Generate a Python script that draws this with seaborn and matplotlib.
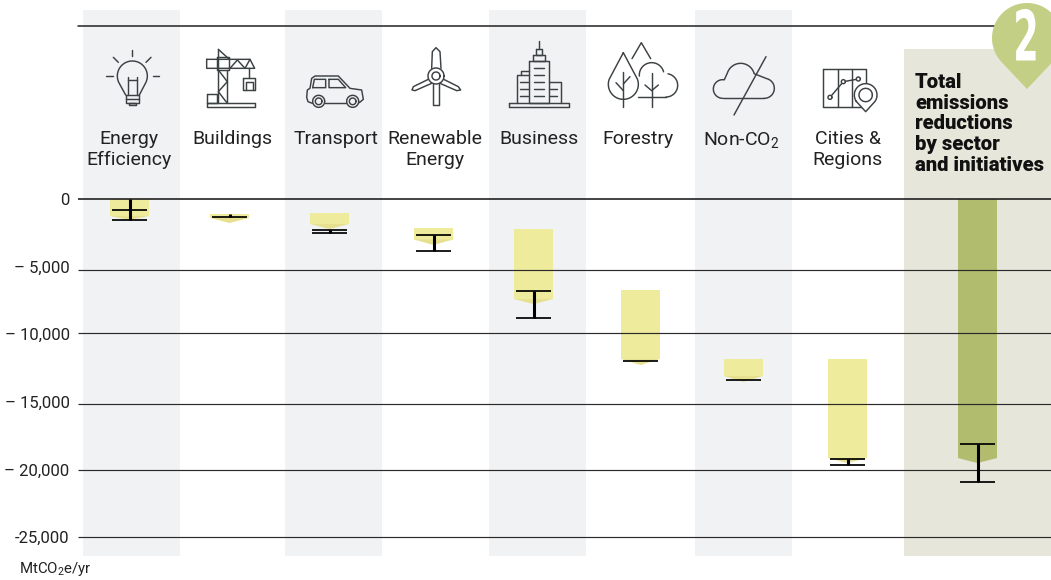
import numpy as np
import pandas as pd
import matplotlib
matplotlib.use("Agg")
import matplotlib.pyplot as plt
from matplotlib.patches import Polygon, Rectangle
from matplotlib.patheffects import AbstractPathEffect
from matplotlib.transforms import Affine2D
import seaborn as sns

# =============================================================================
# DATA (MtCO2e/yr)
# =============================================================================
sectors = ["Energy\nEfficiency", "Buildings", "Transport", "Renewable\nEnergy", "Business",
           "Forestry", "Non-CO$_2$", "Cities &\nRegions"]
total_title = "Total\nemissions\nreductions\nby sector\nand initiatives"
bar_top = [0, -1110, -1035, -2145, -2220, -6730, -11830, -11830, 0]
bar_end = [-1257, -1405, -1850, -3000, -7400, -11830, -13090, -19160, -19160]
bar_tip = [-1550, -1775, -2220, -3400, -7770, -12280, -13535, -19530, -19530]
whisker_high = [0, -1130, -2270, -2660, -6800, -11980, -13390, -19230, -18120]
whisker_low = [-1550, -1330, -2490, -3850, -8800, -11980, -13390, -19670, -20930]
upper_cap = [-814, np.nan, -2270, -2660, -6800, np.nan, np.nan, -19230, -18120]
ticks = [0, -5000, -10000, -15000, -20000, -25000]
tick_labels = ["0", "– 5,000", "– 10,000", "– 15,000", "– 20,000", "-25,000"]
# the rules in the source sit slightly off the tick labels
rule_levels = [-5251, -9911, -15163, -20044, -25000]

# =============================================================================
# LAYOUT (pixels of the 1051x580 picture)
# =============================================================================
W, H = 1051, 580
PX_PER_UNIT = 13.52 / 1000
ZERO_Y = 199
bar_x = [129.5, 229.5, 329.5, 433.5, 533.5, 640.5, 743.5, 847.5, 977.5]
label_x = [129, 232, 336, 435, 539, 638, 741, 848]
band_left = [83, 285, 489, 695]
YELLOW, YELLOW_TIP = "#efeb9c", "#e6e08f"
GREEN = "#b2bc6f"
INK = "#3c4144"
FONT = "Roboto"

sns.set_theme(style="white")
plt.rcParams["font.family"] = [FONT, "DejaVu Sans"]
plt.rcParams["mathtext.default"] = "regular"


class Squeeze(AbstractPathEffect):
    # narrows a text horizontally around a display x, no condensed face is installed
    def __init__(self, cx, factor):
        super().__init__()
        self.cx, self.factor = cx, factor

    def draw_path(self, renderer, gc, tpath, affine, rgbFace=None):
        squeeze = Affine2D().translate(-self.cx, 0).scale(self.factor, 1).translate(self.cx, 0)
        renderer.draw_path(gc, tpath, affine + squeeze, rgbFace)


fig = plt.figure(figsize=(W / 100, H / 100), dpi=100)

# back layer in pixel coordinates: bands, headers, icons, badge
deco = fig.add_axes([0, 0, 1, 1], zorder=0)
deco.set_xlim(0, W)
deco.set_ylim(H, 0)
deco.axis("off")

for left in band_left:
    deco.add_patch(Rectangle((left, 10), 97, 546, color="#f1f2f4", lw=0))
deco.add_patch(Rectangle((904, 49), 147, 507, color="#e6e6da", lw=0))
deco.plot([78, 996], [26, 26], color="#222222", lw=1.1)

for name, x in zip(sectors, label_x):
    deco.text(x, 130, name, ha="center", va="top", fontsize=14, color="#222222", linespacing=1.21)
deco.text(915, 73, total_title, ha="left", va="top", fontsize=14.6, fontweight="black",
          color="#111111", linespacing=1.11)
deco.text(19, 569, "MtCO$_2$e/yr", ha="left", va="center", fontsize=10.8, color="#222222")

# badge
a = np.radians(np.linspace(-225, 45, 80))
pin = np.column_stack([1027 + 35 * np.cos(a), 38 + 35 * np.sin(a)])
pin = np.vstack([pin, [1027, 89]])
deco.add_patch(Polygon(pin, closed=True, color="#c3cf84", lw=0, zorder=5))
deco.text(1026, 41, "2", ha="center", va="center", fontsize=50, color="white", fontweight="bold",
          family="DejaVu Sans", zorder=6, path_effects=[Squeeze(1026, 0.53)])


# =============================================================================
# ICONS (traced in 3x zoom coordinates)
# =============================================================================
def stroke(pts, ox, oy, lw=1.05, fill=None):
    pts = np.asarray(pts, dtype=float)
    x, y = ox + pts[:, 0] / 3, oy + pts[:, 1] / 3
    if fill:
        deco.fill(x, y, color=fill, lw=0, zorder=3)
    deco.plot(x, y, color=INK, lw=lw, zorder=3, solid_capstyle="round", solid_joinstyle="round")


def arc(cx, cy, r, a0=0, a1=360):
    t = np.radians(np.linspace(a0, a1, 60))
    return np.column_stack([cx + r * np.cos(t), cy + r * np.sin(t)])


def box(x0, y0, x1, y1):
    return [(x0, y0), (x1, y0), (x1, y1), (x0, y1), (x0, y0)]


Z5 = (80, 20)
Z6 = (480, 20)

# bulb
stroke(np.vstack([[(137, 225)], arc(157, 168, 45, 150, 390), [(178, 225)]]), *Z5)
for seg in [[(157, 90), (157, 108)], [(78, 168), (98, 168)], [(218, 168), (238, 168)],
            [(100, 112), (115, 127)], [(213, 112), (198, 127)], [(145, 170), (145, 225)],
            [(170, 170), (170, 225)], [(145, 180), (170, 180)]]:
    stroke(seg, *Z5)
stroke(box(137, 225, 178, 248), *Z5)
stroke(box(148, 248, 168, 256), *Z5)
stroke([(137, 236), (178, 236)], *Z5)

# crane
for seg in [[(415, 88), (415, 250)], [(442, 150), (442, 250)], [(415, 88), (448, 118)],
            [(380, 118), (510, 118), (524, 145), (380, 145), (380, 118)],
            [(450, 145), (472, 120), (495, 145), (510, 118)],
            [(415, 150), (442, 185), (415, 215), (442, 250)], [(507, 145), (507, 175)],
            box(382, 250, 524, 262), box(382, 222, 410, 250), box(410, 112, 448, 150),
            box(490, 175, 525, 210), [(497, 210), (497, 185), (518, 185), (518, 210)]]:
    stroke(seg, *Z5)

# car
stroke([(697, 250), (684, 245), (680, 232), (682, 210), (690, 205), (695, 175), (705, 168), (775, 168),
        (810, 205), (845, 210), (850, 238), (838, 248)], *Z5)
stroke([(735, 250), (798, 250)], *Z5)
for cx in (716, 818):
    stroke(arc(cx, 244, 18), *Z5)
    stroke(arc(cx, 244, 10), *Z5)
stroke([(698, 203), (703, 178), (737, 178), (737, 203), (698, 203)], *Z5)
stroke([(747, 178), (775, 178), (797, 203), (747, 203), (747, 178)], *Z5)

# wind turbine
for seg in [[(1055, 145), (1057, 95), (1068, 83), (1080, 95), (1083, 145)],
            [(1045, 178), (1000, 200), (996, 210), (1005, 212), (1055, 190)],
            [(1091, 178), (1135, 200), (1142, 210), (1130, 212), (1080, 190)],
            [(1060, 193), (1060, 256), (1077, 256), (1077, 193)]]:
    stroke(seg, *Z5)
stroke(arc(1068, 168, 24), *Z5)
stroke(arc(1068, 168, 12), *Z5)

# towers
for seg in [box(87, 248, 267, 261), box(146, 123, 208, 248), box(158, 105, 196, 123), box(167, 88, 187, 105),
            [(177, 62), (177, 88)], [(146, 165), (110, 165), (110, 248)], [(122, 165), (122, 152), (146, 152)],
            [(208, 187), (244, 187), (244, 248)]]:
    stroke(seg, *Z6)
for y in (145, 165, 185, 207, 228):
    stroke([(162, y), (192, y)], *Z6)
for y in (185, 207, 228):
    stroke([(120, y), (143, y)], *Z6)
for y in (207, 228):
    stroke([(210, y), (230, y)], *Z6)

# trees
drop = np.vstack([[(430, 98)], arc(430, 193, 45, -20, 200), [(430, 98)]])
stroke(drop, *Z6)
for seg in [[(430, 155), (430, 262)], [(408, 188), (430, 212)], [(450, 170), (430, 192)],
            [(456, 116), (484, 68), (512, 116)], [(515, 158), (515, 262)],
            [(495, 195), (515, 212), (535, 195)], [(475, 232), (558, 232)]]:
    stroke(seg, *Z6)
stroke(arc(515, 165, 37, 175, 345), *Z6)
stroke(arc(558, 196, 35, -80, 90), *Z6)

# cloud with slash
stroke(np.vstack([arc(728, 207, 28, 90, 280), arc(782, 172, 42, 195, 345), arc(853, 205, 30, -80, 90)]), *Z6)
stroke([(728, 235), (853, 235)], *Z6)
stroke([(858, 110), (762, 285)], *Z6)

# map with pin
stroke(box(1030, 147, 1158, 262), *Z6)
for x in (1073, 1115):
    stroke([(x, 147), (x, 262)], *Z6)
stroke([(1050, 232), (1090, 185), (1135, 177)], *Z6)
for cx, cy in [(1050, 232), (1090, 185), (1135, 177)]:
    stroke(arc(cx, cy, 6), *Z6, fill="white")
stroke(np.vstack([arc(1157, 225, 34, 145, 395), [(1157, 275)], arc(1157, 225, 34, 145, 146)]), *Z6, fill="white")
stroke(arc(1157, 225, 20), *Z6)

# =============================================================================
# CHART
# =============================================================================
ax = fig.add_axes([78 / W, 1 - 556 / H, (W - 78) / W, (556 - 26) / H], zorder=1)
ax.patch.set_alpha(0)

df = pd.DataFrame({"x": bar_x, "top": bar_top, "end": bar_end})
df["height"] = df["end"] - df["top"]
sns.barplot(data=df, x="x", y="height", bottom=df["top"].to_numpy(), native_scale=True, width=0.39,
            color=YELLOW, saturation=1, linewidth=0, ax=ax)
ax.patches[-1].set_facecolor(GREEN)

ax.set_xlim(78, W)
ax.set_ylim(-(556 - ZERO_Y) / PX_PER_UNIT, (ZERO_Y - 26) / PX_PER_UNIT)

for i, x in enumerate(bar_x):
    colour = GREEN if i == len(bar_x) - 1 else YELLOW_TIP
    ax.add_patch(Polygon([(x - 19.5, bar_end[i]), (x + 19.5, bar_end[i]), (x, bar_tip[i])], closed=True,
                         color=colour, lw=0, zorder=2))

ax.hlines(rule_levels, 78, W, color="#2a2a2a", lw=0.85, zorder=3)
ax.axhline(0, color="#222222", lw=1.2, zorder=3)

# whiskers
ax.vlines(bar_x, whisker_low, whisker_high, color="black", lw=2.2, zorder=4)
ax.hlines(whisker_low, np.array(bar_x) - 17.5, np.array(bar_x) + 17.5, color="black", lw=1.25, zorder=4)
caps = np.array(upper_cap)
ok = ~np.isnan(caps)
ax.hlines(caps[ok], np.array(bar_x)[ok] - 17.5, np.array(bar_x)[ok] + 17.5, color="black", lw=1.25, zorder=4)

ax.set_xticks([])
ax.set_xlabel("")
ax.set_ylabel("")
ax.set_yticks(ticks)
ax.set_yticklabels(tick_labels, fontsize=12, color="#222222")
ax.tick_params(axis="y", length=0, pad=6)
sns.despine(ax=ax, left=True, bottom=True)

fig.savefig("out.png", dpi=100)
